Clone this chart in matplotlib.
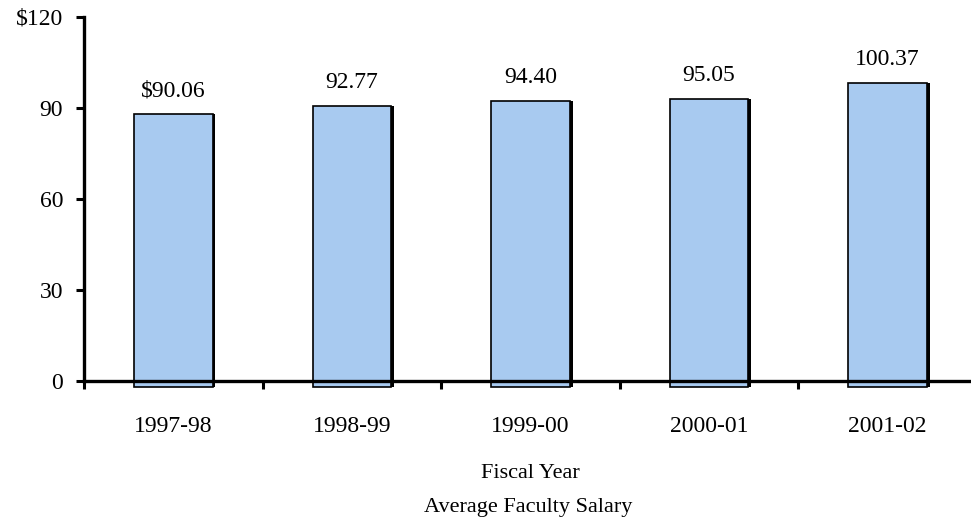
import matplotlib
matplotlib.use("Agg")
import matplotlib.pyplot as plt
import matplotlib.patheffects as pe

years = ["1997-98", "1998-99", "1999-00", "2000-01", "2001-02"]
salaries = [90.06, 92.77, 94.40, 95.05, 100.37]
labels = ["$90.06", "92.77", "94.40", "95.05", "100.37"]
yticks = [0, 30, 60, 90, 120]
yticklabels = ["0", "30", "60", "90", "$120"]

plt.rcParams['font.family'] = ['Liberation Serif', 'DejaVu Serif']
plt.rcParams['font.size'] = 17

fig = plt.figure(figsize=(9.71, 5.18), dpi=100)
ax = fig.add_axes([0.0865, 0.2645, 0.9197, 0.7027])

x = range(len(years))
bars = ax.bar(x, salaries, width=0.44, bottom=-2, color='#A8CAF0',
              edgecolor='black', linewidth=1.2, clip_on=False, zorder=1)
for b in bars:
    b.set_path_effects([pe.SimplePatchShadow(offset=(2, 0), shadow_rgbFace='black', alpha=1), pe.Normal()])

for i, v in enumerate(salaries):
    ax.annotate(labels[i], (i, v - 2), xytext=(0, 12.5), textcoords='offset points',
                ha='center', va='baseline', fontsize=17)

ax.set_xlim(-0.5, 4.5)
ax.set_ylim(0, 120)
ax.set_yticks(yticks)
ax.set_yticklabels(yticklabels)
ax.set_xticks([i - 0.5 for i in range(len(years) + 1)])
ax.set_xticklabels([])
ax.set_xticks(list(x), minor=True)
ax.set_xticklabels(years, minor=True)
ax.tick_params(axis='x', which='minor', length=0, pad=25)
ax.tick_params(axis='both', which='major', length=6, width=2.2, direction='out')
ax.tick_params(axis='y', pad=9)

for s in ['top', 'right']:
    ax.spines[s].set_visible(False)
for s in ['left', 'bottom']:
    ax.spines[s].set_linewidth(2.4)

fig.text(0.546, 0.0772, "Fiscal Year", ha='center', va='baseline', fontsize=16)
fig.text(0.544, 0.0116, "Average Faculty Salary", ha='center', va='baseline', fontsize=16)

fig.savefig("out.png", dpi=100)
